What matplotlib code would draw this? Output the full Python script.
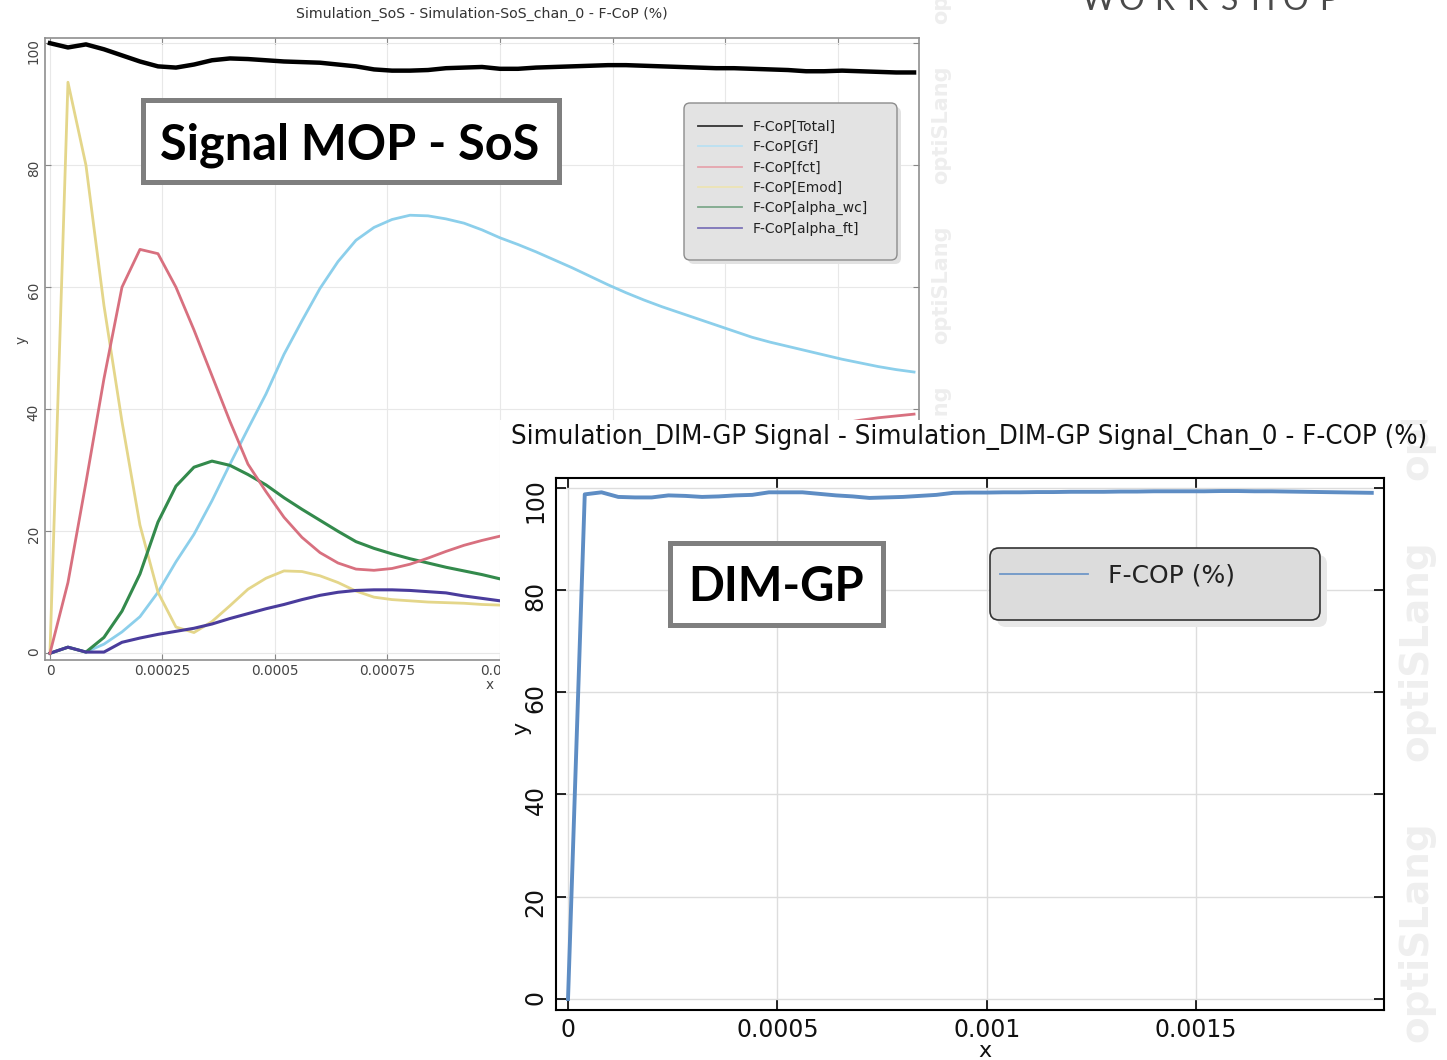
import numpy as np
import matplotlib
matplotlib.use("Agg")
import matplotlib.pyplot as plt
from matplotlib.patches import Rectangle, FancyBboxPatch
from matplotlib.lines import Line2D
from matplotlib.transforms import Affine2D, Bbox, TransformedBbox
from matplotlib.font_manager import FontProperties, findfont

# ---------------- data: chart 1 (Signal MOP - SoS) ----------------
x_sos_e5 = [0, 4, 8, 12, 16, 20, 24, 28, 32, 36, 40, 44, 48, 52, 56, 60, 64, 68, 72, 76,
            80, 84, 88, 92, 96, 100, 104, 108, 112, 116, 120, 124, 128, 132, 136, 140, 144,
            148, 152, 156, 160, 164, 168, 172, 176, 180, 184, 188, 192]
fcop_total = [100, 99.3, 99.8, 99.0, 98.0, 97.0, 96.2, 96.0, 96.5, 97.2, 97.5, 97.4, 97.2,
              97.0, 96.9, 96.8, 96.5, 96.2, 95.7, 95.5, 95.5, 95.6, 95.9, 96.0, 96.1, 95.8,
              95.8, 96.0, 96.1, 96.2, 96.3, 96.4, 96.4, 96.3, 96.2, 96.1, 96.0, 95.9, 95.9,
              95.8, 95.7, 95.6, 95.4, 95.4, 95.5, 95.4, 95.3, 95.2, 95.2]
fcop_gf = [0, 1.0, 0.2, 1.5, 3.5, 6.0, 10.0, 15.0, 19.5, 25.0, 31.0, 36.8, 42.5, 49.0, 54.5,
           59.8, 64.2, 67.7, 69.8, 71.1, 71.8, 71.7, 71.2, 70.5, 69.4, 68.1, 67.0, 65.8, 64.5,
           63.2, 61.8, 60.4, 59.1, 57.9, 56.8, 55.8, 54.8, 53.8, 52.8, 51.8, 51.0, 50.3, 49.6,
           48.9, 48.2, 47.6, 47.0, 46.5, 46.1]
fcop_fct = [0, 11.6, 28.0, 45.0, 60.0, 66.2, 65.5, 60.0, 53.0, 45.5, 38.0, 31.0, 26.5, 22.3,
            19.0, 16.5, 14.8, 13.8, 13.6, 13.9, 14.6, 15.6, 16.7, 17.7, 18.5, 19.2, 20.3, 21.3,
            22.4, 23.5, 24.6, 25.7, 26.8, 27.9, 29.0, 30.0, 31.0, 32.0, 33.0, 33.9, 34.8, 35.6,
            36.4, 37.1, 37.7, 38.2, 38.6, 38.9, 39.2]
fcop_emod = [0, 93.6, 80.0, 57.0, 38.0, 21.0, 10.0, 4.3, 3.4, 5.2, 7.8, 10.5, 12.3, 13.5, 13.4,
             12.7, 11.6, 10.2, 9.2, 8.8, 8.6, 8.4, 8.3, 8.2, 8.0, 7.9, 7.9, 7.8, 7.7, 7.6, 7.5,
             7.4, 7.3, 7.2, 7.1, 7.0, 6.9, 6.8, 6.7, 6.6, 6.5, 6.4, 6.3, 6.2, 6.1, 6.0, 5.9,
             5.8, 5.7]
fcop_alpha_wc = [0, 1.0, 0.2, 2.6, 6.9, 13.0, 21.5, 27.4, 30.5, 31.5, 30.8, 29.3, 27.6, 25.5,
                 23.6, 21.8, 20.0, 18.3, 17.2, 16.3, 15.5, 14.8, 14.1, 13.5, 12.9, 12.2, 11.8,
                 11.4, 11.0, 10.6, 10.2, 9.9, 9.6, 9.3, 9.0, 8.8, 8.6, 8.4, 8.2, 8.0, 7.9, 7.8,
                 7.6, 7.5, 7.4, 7.3, 7.2, 7.1, 7.0]
fcop_alpha_ft = [0, 1.0, 0.2, 0.2, 1.8, 2.5, 3.1, 3.6, 4.1, 4.8, 5.7, 6.5, 7.3, 8.0, 8.8, 9.5,
                 10.0, 10.3, 10.4, 10.4, 10.3, 10.1, 9.9, 9.4, 9.0, 8.6, 8.3, 8.0, 7.8, 7.6,
                 7.4, 7.2, 7.0, 6.9, 6.8, 6.7, 6.6, 6.5, 6.4, 6.3, 6.2, 6.1, 6.0, 5.9, 5.8, 5.7,
                 5.6, 5.5, 5.4]
sos_labels = ["F-CoP[Total]", "F-CoP[Gf]", "F-CoP[fct]", "F-CoP[Emod]",
              "F-CoP[alpha_wc]", "F-CoP[alpha_ft]"]
sos_xticks = [0, 0.00025, 0.0005, 0.00075, 0.001, 0.00125, 0.0015, 0.00175]
sos_xticklabels = ["0", "0.00025", "0.0005", "0.00075", "0.001", "0.00125", "0.0015", "0.00175"]
sos_yticks = [0, 20, 40, 60, 80, 100]

# ---------------- data: chart 2 (DIM-GP) ----------------
x_dim_e5 = x_sos_e5
fcop_dim = [0, 98.7, 99.1, 98.2, 98.1, 98.1, 98.5, 98.4, 98.2, 98.3, 98.5, 98.6, 99.1, 99.1,
            99.1, 98.8, 98.5, 98.3, 98.0, 98.1, 98.2, 98.4, 98.6, 99.0, 99.05, 99.05, 99.1,
            99.1, 99.15, 99.15, 99.2, 99.2, 99.2, 99.25, 99.25, 99.3, 99.3, 99.3, 99.3, 99.35,
            99.35, 99.3, 99.3, 99.25, 99.2, 99.15, 99.1, 99.05, 99.0]
dim_label = "F-COP (%)"
dim_xticks = [0, 0.0005, 0.001, 0.0015]
dim_xticklabels = ["0", "0.0005", "0.001", "0.0015"]
dim_yticks = [0, 20, 40, 60, 80, 100]

# ---------------- figure ----------------
W, H = 1447, 1060
fig = plt.figure(figsize=(W / 100, H / 100), dpi=100)
fig.patch.set_facecolor("white")
# pixel transform: x from left, y from top
T = Affine2D().scale(1 / W, -1 / H).translate(0, 1) + fig.transFigure


def frect(l, t, r, b):
    return [l / W, 1 - b / H, (r - l) / W, (b - t) / H]


xs = np.array(x_sos_e5) * 1e-5
xd = np.array(x_dim_e5) * 1e-5

# ---------------- chart 1 ----------------
ax1 = fig.add_axes(frect(45, 38.3, 919, 660))
ax1.set_zorder(0)
series = [fcop_total, fcop_gf, fcop_fct, fcop_emod, fcop_alpha_wc, fcop_alpha_ft]
colors = ["#000000", "#8ccfeb", "#d8707f", "#e4d68a", "#338a4c", "#4a3c9c"]
light = ["#333333", "#b9e0f2", "#e6a4ad", "#ece3b4", "#7fa98c", "#7d74b8"]
widths = [3.2, 2.0, 2.0, 2.0, 2.2, 2.2]
order = [2, 3, 6, 3, 5, 5]
for s, c, w, z in zip(series, colors, widths, order):
    ax1.plot(xs, s, color=c, lw=w, zorder=z, solid_joinstyle="round")
ax1.set_xlim(-1.1e-5, 0.001931)
ax1.set_ylim(-1.1, 100.8)
ax1.set_xticks(sos_xticks, sos_xticklabels)
ax1.set_yticks(sos_yticks)
ax1.grid(True, color="#e8e8e8", lw=0.8)
ax1.set_axisbelow(True)
ax1.tick_params(direction="in", length=4, width=0.8, color="#888888", top=True, right=True,
                labelsize=9.8, labelcolor="#444444", pad=3)
ax1.tick_params(axis="y", labelrotation=90)
for sp in ax1.spines.values():
    sp.set_color("#8f8f8f")
    sp.set_linewidth(1.2)
ax1.set_xlabel("x", fontsize=9.8, color="#444444")
ax1.set_ylabel("y", fontsize=9.8, color="#444444")
ax1.xaxis.set_label_coords((490 - 45) / 874, (660 - 678) / 621.7)
ax1.yaxis.set_label_coords((29 - 45) / 874, (660 - 340) / 621.7)

handles1 = [Line2D([], [], color=c, lw=1.3) for c in light]
ax1.legend(handles1, sos_labels, loc="upper left", bbox_to_anchor=(698, 120), bbox_transform=T,
           frameon=False, borderpad=0, borderaxespad=0, handlelength=3.2, handletextpad=0.75,
           labelspacing=0.45, fontsize=10, labelcolor="#222222")
sh1 = FancyBboxPatch((688, 107), 213, 157, boxstyle="round,pad=0,rounding_size=6",
                     transform=T, fc="#e2e2e2", ec="none", zorder=3.9, clip_on=False)
fr1 = FancyBboxPatch((684, 103), 213, 157, boxstyle="round,pad=0,rounding_size=6",
                     transform=T, fc="#e3e3e3", ec="#8c8c8c", lw=1.0, zorder=4, clip_on=False)
ax1.add_artist(sh1)
ax1.add_artist(fr1)

fig.text(482, 14, "Simulation_SoS - Simulation-SoS_chan_0 - F-CoP (%)", transform=T,
         ha="center", va="center", fontsize=10.2, color="#333333")

# watermarks chart 1 (only the part above the overlaid panel shows)
clip_top = TransformedBbox(Bbox([[900, 0], [1000, 419]]), T)
for yc in [-35, 125, 285, 445]:
    t = fig.text(941, yc, "optiSLang", transform=T, rotation=90, ha="center", va="center",
                 fontsize=15, fontweight="bold", color="#eeeeee", zorder=0.5)
    t.set_clip_box(clip_top)
    t.set_clip_on(True)

# "Signal MOP - SoS" box
fig.add_artist(Rectangle((142.5, 99.8), 416, 82.7, transform=T, fc="white", ec="#7f7f7f",
                         lw=3.6, zorder=5))
fig.text(350, 160, "Signal MOP - SoS", transform=T, ha="center", va="baseline",
         fontsize=35, fontweight="bold", family=["Lato", "DejaVu Sans"], color="black", zorder=6)

# ---------------- cover panel ----------------
fig.add_artist(Rectangle((500, 420), 947, 640, transform=T, fc="white", ec="none", zorder=1))
clipbb = TransformedBbox(Bbox([[500, 420], [1447, 1060]]), T)
for yc in [370, 651, 932]:
    t = fig.text(1416, yc, "optiSLang", transform=T, rotation=90, ha="center", va="center",
                 fontsize=28, fontweight="bold", color="#efefef", zorder=1.5)
    t.set_clip_box(clipbb)
    t.set_clip_on(True)

# ---------------- chart 2 ----------------
ax2 = fig.add_axes(frect(556, 478, 1383.5, 1010))
ax2.set_zorder(2)
ax2.set_facecolor("white")
ax2.plot(xd, fcop_dim, color="#5e8dc4", lw=2.8, zorder=3)
ax2.set_xlim(-2.87e-5, 0.001948)
ax2.set_ylim(-2.15, 101.9)
ax2.set_xticks(dim_xticks, dim_xticklabels)
ax2.set_yticks(dim_yticks)
ax2.grid(True, color="#dddddd", lw=1.0)
ax2.set_axisbelow(True)
ax2.tick_params(direction="in", length=7, width=1.2, color="black", top=True, right=True,
                labelsize=17, labelcolor="#111111", pad=6)
ax2.tick_params(axis="y", labelrotation=90)
for sp in ax2.spines.values():
    sp.set_color("black")
    sp.set_linewidth(1.5)
ax2.set_xlabel("x", fontsize=16, color="#111111")
ax2.set_ylabel("y", fontsize=16, color="#111111")
ax2.xaxis.set_label_coords((985 - 556) / 827.5, (1010 - 1041) / 532)
ax2.yaxis.set_label_coords((531 - 556) / 827.5, (1010 - 728) / 532)

handles2 = [Line2D([], [], color="#6f97c8", lw=1.3)]
ax2.legend(handles2, [dim_label], loc="upper left", bbox_to_anchor=(1000, 564), bbox_transform=T,
           frameon=False, borderpad=0, borderaxespad=0, handlelength=3.5, handletextpad=0.8,
           fontsize=18, labelcolor="#222222")
sh2 = FancyBboxPatch((997, 555), 330, 72, boxstyle="round,pad=0,rounding_size=9",
                     transform=T, fc="#e8e8e8", ec="none", zorder=3.9, clip_on=False)
fr2 = FancyBboxPatch((990, 548), 330, 72, boxstyle="round,pad=0,rounding_size=9",
                     transform=T, fc="#dcdcdc", ec="#333333", lw=1.2, zorder=4, clip_on=False)
ax2.add_artist(sh2)
ax2.add_artist(fr2)

# title of chart 2: narrow face if one is installed, sized to the reference width
title_kw = dict(family="DejaVu Sans")
for fam in ["Liberation Sans Narrow", "DejaVu Sans", "Roboto"]:
    p = findfont(FontProperties(family=fam, stretch="condensed"), fallback_to_default=True)
    if ("Narrow" in p) or ("Condensed" in p):
        title_kw = dict(family=fam, fontstretch="condensed")
        break
else:
    p = findfont(FontProperties(family="Roboto"), fallback_to_default=True)
    if "Roboto" in p:
        title_kw = dict(family="Roboto")
t2 = fig.text(969.5, 437, "Simulation_DIM-GP Signal - Simulation_DIM-GP Signal_Chan_0 - F-COP (%)",
              transform=T, ha="center", va="center", fontsize=20, color="#111111", zorder=3,
              **title_kw)
rend = fig.canvas.get_renderer()
wpx = t2.get_window_extent(rend).width
t2.set_fontsize(20 * 915.0 / wpx)

# "DIM-GP" box
fig.add_artist(Rectangle((670, 543), 213, 82, transform=T, fc="white", ec="#7f7f7f",
                         lw=3.6, zorder=5))
fig.text(776, 601, "DIM-GP", transform=T, ha="center", va="baseline", fontsize=34,
         fontweight="bold", family=["Lato", "DejaVu Sans"], color="black", zorder=6)

# "WORKSHOP" header (cut at top)
for i, ch in enumerate("WORKSHOP"):
    fig.text(1098 + i * 32.9, 10, ch, transform=T, ha="center", va="baseline", fontsize=23,
             fontweight="normal", family=["Lato", "DejaVu Sans"], color="#4a4a4a")

fig.savefig("out.png", dpi=100, facecolor="white")
